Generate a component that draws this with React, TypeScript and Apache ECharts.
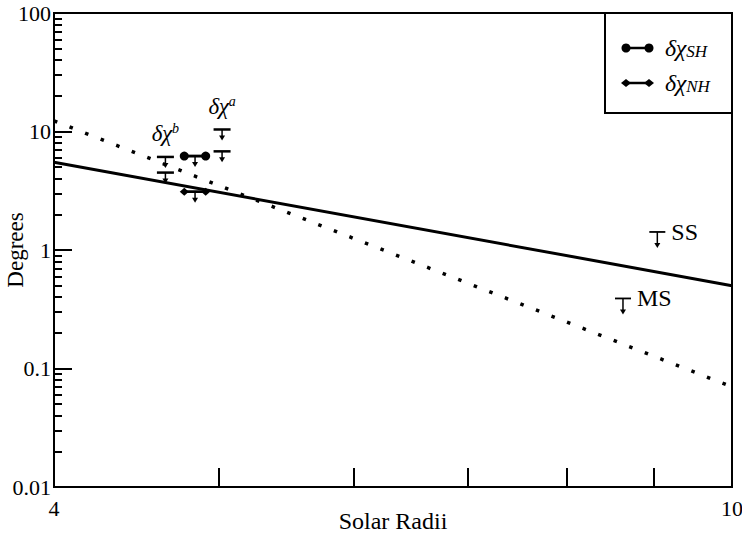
import React, { useEffect, useRef } from "react";
import * as echarts from "echarts";

// axis ranges and ticks (real values)
const xRange = [4, 10];
const yRange = [0.01, 100];
const xTickValues = [4, 5, 6, 7, 8, 9, 10];
const xLabelValues = [4, 10];
const yMajorTickValues = [0.01, 0.1, 1, 10, 100];
const yMinorTickValues = [
  0.02, 0.03, 0.04, 0.05, 0.06, 0.07, 0.08, 0.09,
  0.2, 0.3, 0.4, 0.5, 0.6, 0.7, 0.8, 0.9,
  2, 3, 4, 5, 6, 7, 8, 9,
  20, 30, 40, 50, 60, 70, 80, 90,
];

// model lines
const solidLineX = [4, 10];
const solidLineY = [5.5, 0.5];
const dottedLineX = [4, 10];
const dottedLineY = [12.3, 0.07];

// observed upper limits
const obsLimitX = [4.65, 4.65, 5.02, 5.02, 4.84, 4.84];
const obsLimitY = [6.1, 4.5, 10.4, 6.8, 6.2, 3.1];
const obsLimitLabel = ["b", "", "a", "", "", ""];

// δχ_SH and δχ_NH ranges
const shX = [4.77, 4.91];
const shY = [6.2, 6.2];
const nhX = [4.77, 4.91];
const nhY = [3.1, 3.1];

// SS / MS upper limits
const modelLimitX = [9.04, 8.63];
const modelLimitY = [1.42, 0.39];
const modelLimitLabel = ["SS", "MS"];

const FONT = "Liberation Serif";
const lg = (v: number) => Math.log10(v);
const fmt = (v: number) => String(+Math.pow(10, v).toPrecision(6));

function limitRenderer(labels: string[], len: number, halfW: number, barW: number, labelMode: "above" | "right") {
  return (params: any, api: any) => {
    const p = api.coord([api.value(0), api.value(1)]);
    const x = p[0];
    const y = p[1];
    const children: any[] = [
      { type: "line", shape: { x1: x - halfW, y1: y, x2: x + halfW, y2: y }, style: { stroke: "#000", lineWidth: barW } },
      { type: "line", shape: { x1: x, y1: y, x2: x, y2: y + len - 4 }, style: { stroke: "#000", lineWidth: 1.5 } },
      {
        type: "polygon",
        shape: { points: [[x - 3, y + len - 5], [x + 3, y + len - 5], [x, y + len]] },
        style: { fill: "#000" },
      },
    ];
    const lab = labels[params.dataIndex];
    if (lab) {
      if (labelMode === "above") {
        children.push({
          type: "text",
          x: x,
          y: y - 11,
          style: {
            text: "{d|δχ}{s|" + lab + "}",
            align: "center",
            verticalAlign: "bottom",
            rich: {
              d: { fontFamily: FONT, fontStyle: "italic", fontSize: 23, fill: "#000", lineHeight: 24 },
              s: { fontFamily: FONT, fontStyle: "italic", fontSize: 14, fill: "#000", verticalAlign: "top", lineHeight: 24, padding: [0, 0, 8, 0] },
            },
          },
        });
      } else {
        children.push({
          type: "text",
          x: x + 14,
          y: y,
          style: { text: lab, align: "left", verticalAlign: "middle", fontFamily: FONT, fontSize: 24, fill: "#000" },
        });
      }
    }
    return { type: "group", children };
  };
}

export default function App() {
  const ref = useRef<HTMLDivElement>(null);
  useEffect(() => {
    if (!ref.current) return;
    const chart = echarts.init(ref.current, undefined, { renderer: "svg" });
    const option: any = {
      animation: false,
      backgroundColor: "#fff",
      textStyle: { fontFamily: FONT },
      grid: {
        left: 54, right: 10, top: 13, bottom: 53,
        containLabel: false, outerBoundsMode: "none",
        show: true, borderColor: "#000", borderWidth: 2, backgroundColor: "transparent",
      },
      xAxis: [
        {
          type: "value",
          min: lg(xRange[0]),
          max: lg(xRange[1]),
          position: "bottom",
          name: "Solar Radii",
          nameLocation: "middle",
          nameGap: 22,
          nameMoveOverlap: false,
          nameTextStyle: { fontFamily: FONT, fontSize: 24, color: "#000" },
          axisLine: { show: true, onZero: false, lineStyle: { color: "#000", width: 2 } },
          axisTick: { show: true, inside: true, length: 19, lineStyle: { color: "#000", width: 2 }, customValues: xTickValues.map(lg) },
          axisLabel: { show: true, margin: 10, fontFamily: FONT, fontSize: 22, color: "#000", formatter: fmt, customValues: xLabelValues.map(lg), showMinLabel: true, showMaxLabel: true },
          splitLine: { show: false },
        },
      ],
      yAxis: [
        {
          type: "value",
          min: lg(yRange[0]),
          max: lg(yRange[1]),
          interval: 1,
          position: "left",
          name: "Degrees",
          nameLocation: "middle",
          nameGap: 27,
          nameMoveOverlap: false,
          nameTextStyle: { fontFamily: FONT, fontSize: 23, color: "#000" },
          axisLine: { show: true, onZero: false, lineStyle: { color: "#000", width: 2 } },
          axisTick: { show: true, inside: true, length: 18, lineStyle: { color: "#000", width: 2 }, customValues: yMajorTickValues.map(lg) },
          axisLabel: { show: true, margin: 3, fontFamily: FONT, fontSize: 22, color: "#000", formatter: fmt, customValues: yMajorTickValues.map(lg) },
          splitLine: { show: false },
        },
        {
          type: "value",
          min: lg(yRange[0]),
          max: lg(yRange[1]),
          position: "left",
          offset: 0,
          axisLine: { show: true, onZero: false, lineStyle: { color: "#000", width: 2 } },
          axisTick: { show: true, inside: true, length: 8, lineStyle: { color: "#000", width: 2 }, customValues: yMinorTickValues.map(lg) },
          axisLabel: { show: false },
          splitLine: { show: false },
        },
      ],
      series: [
        {
          type: "line",
          name: "solid",
          data: solidLineX.map((x, i) => [lg(x), lg(solidLineY[i])]),
          showSymbol: false,
          symbol: "none",
          lineStyle: { color: "#000", width: 3 },
        },
        {
          type: "line",
          name: "dotted",
          data: dottedLineX.map((x, i) => [lg(x), lg(dottedLineY[i])]),
          showSymbol: false,
          symbol: "none",
          lineStyle: { color: "#000", width: 3.5, type: [3.5, 13.2] },
        },
        {
          type: "line",
          name: "SH",
          data: shX.map((x, i) => [lg(x), lg(shY[i])]),
          symbol: "circle",
          symbolSize: 9,
          itemStyle: { color: "#000" },
          lineStyle: { color: "#000", width: 2.5 },
        },
        {
          type: "line",
          name: "NH",
          data: nhX.map((x, i) => [lg(x), lg(nhY[i])]),
          symbol: "diamond",
          symbolSize: [9, 8],
          itemStyle: { color: "#000" },
          lineStyle: { color: "#000", width: 2.5 },
        },
        {
          type: "custom",
          name: "obsLimits",
          data: obsLimitX.map((x, i) => [lg(x), lg(obsLimitY[i])]),
          renderItem: limitRenderer(obsLimitLabel, 11, 8.5, 2.5, "above"),
          z: 5,
        },
        {
          type: "custom",
          name: "modelLimits",
          data: modelLimitX.map((x, i) => [lg(x), lg(modelLimitY[i])]),
          renderItem: limitRenderer(modelLimitLabel, 16, 8, 1.8, "right"),
          z: 5,
        },
      ],
      graphic: [
        {
          type: "group",
          z: 100,
          children: [
            { type: "rect", shape: { x: 605, y: 13, width: 127, height: 100 }, style: { fill: "#fff", stroke: "#000", lineWidth: 2 } },
            { type: "line", shape: { x1: 626, y1: 48, x2: 649, y2: 48 }, style: { stroke: "#000", lineWidth: 2.5 } },
            { type: "circle", shape: { cx: 626, cy: 48, r: 4.5 }, style: { fill: "#000" } },
            { type: "circle", shape: { cx: 649, cy: 48, r: 4.5 }, style: { fill: "#000" } },
            { type: "line", shape: { x1: 626, y1: 83, x2: 649, y2: 83 }, style: { stroke: "#000", lineWidth: 2.5 } },
            { type: "polygon", shape: { points: [[621, 83], [626, 79], [631, 83], [626, 87]] }, style: { fill: "#000" } },
            { type: "polygon", shape: { points: [[644, 83], [649, 79], [654, 83], [649, 87]] }, style: { fill: "#000" } },
            {
              type: "text",
              x: 665,
              y: 48,
              style: {
                text: "{d|δχ}{s|SH}",
                verticalAlign: "middle",
                rich: {
                  d: { fontFamily: FONT, fontStyle: "italic", fontSize: 24, fill: "#000", lineHeight: 24 },
                  s: { fontFamily: FONT, fontStyle: "italic", fontSize: 17, fill: "#000", verticalAlign: "bottom", lineHeight: 24, padding: [6, 0, 0, 0] },
                },
              },
            },
            {
              type: "text",
              x: 665,
              y: 83,
              style: {
                text: "{d|δχ}{s|NH}",
                verticalAlign: "middle",
                rich: {
                  d: { fontFamily: FONT, fontStyle: "italic", fontSize: 24, fill: "#000", lineHeight: 24 },
                  s: { fontFamily: FONT, fontStyle: "italic", fontSize: 17, fill: "#000", verticalAlign: "bottom", lineHeight: 24, padding: [6, 0, 0, 0] },
                },
              },
            },
          ],
        },
      ],
    };
    chart.setOption(option);
    return () => chart.dispose();
  }, []);
  return <div ref={ref} style={{ position: "fixed", left: 0, top: 0, width: 742, height: 540 }} />;
}
